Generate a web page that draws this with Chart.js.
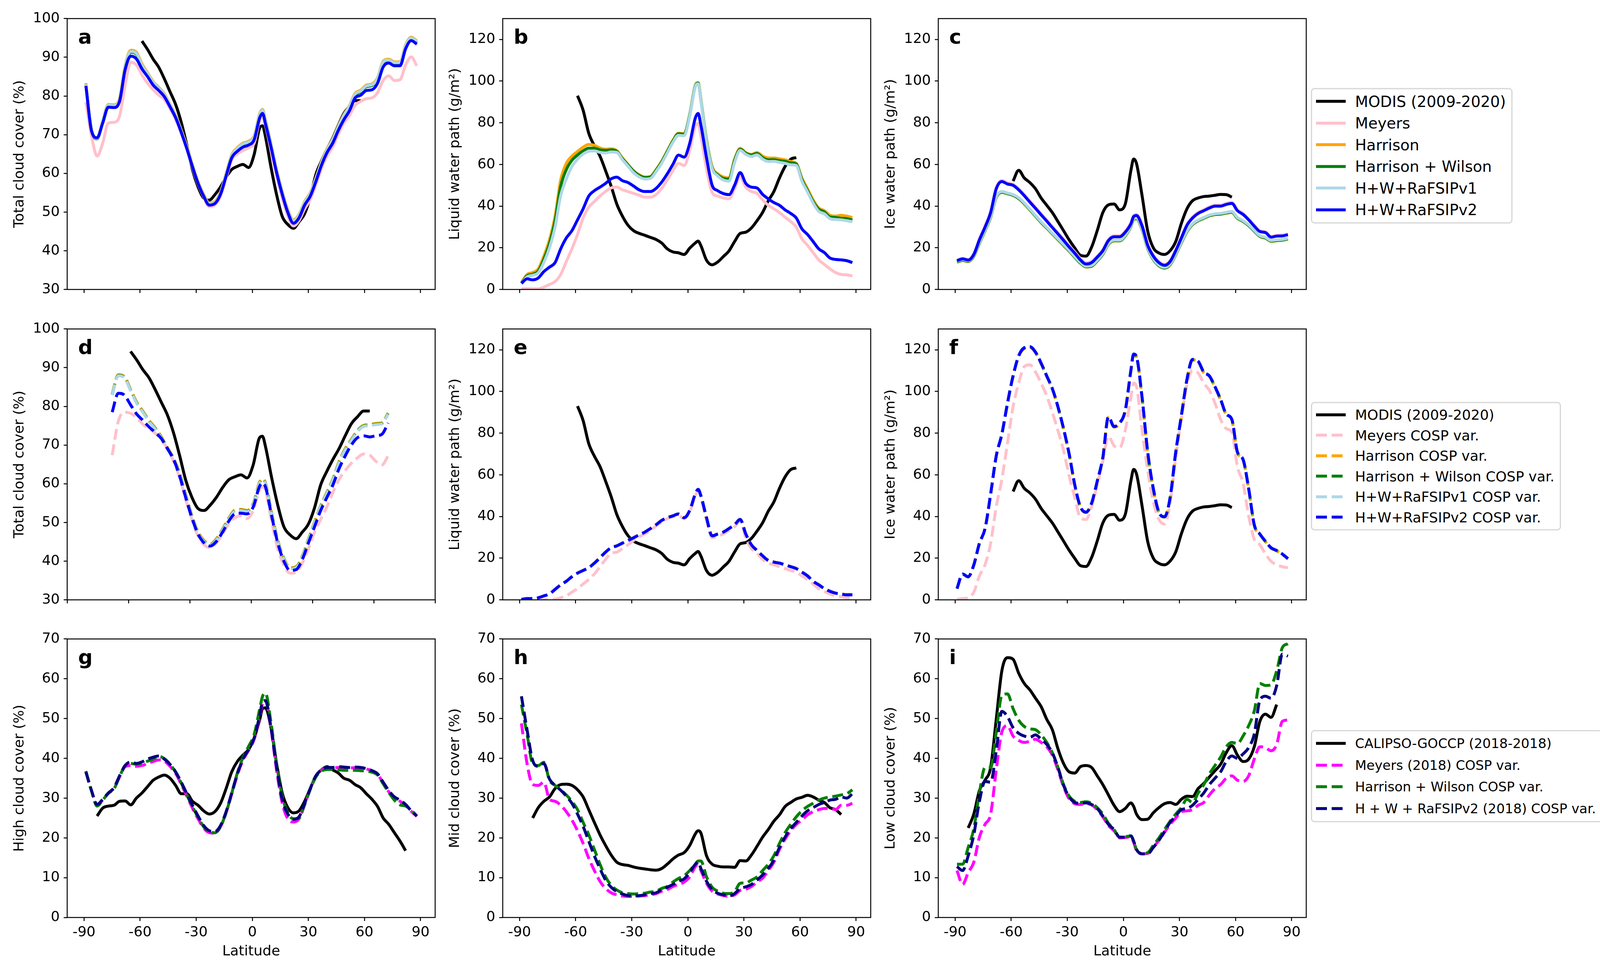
<!DOCTYPE html>
<html>
<head>
<meta charset="utf-8">
<script src="https://cdn.jsdelivr.net/npm/chart.js@4.4.1/dist/chart.umd.min.js"></script>
<style>
  body { margin: 0; background: #fff; width: 4202px; height: 2464px; position: relative; overflow: hidden; font-family: "DejaVu Sans", sans-serif; }
  .panel { position: absolute; }
  .legend { position: absolute; background: #fff; border: 3px solid #d6d6d6; border-radius: 9px; padding: 4px 14px 4px 10px; transform: translateY(-50%); color: #000; }
  .legend .row { display: flex; align-items: center; white-space: nowrap; }
  .legend svg { margin-right: 24px; flex: none; }
</style>
</head>
<body>
<script>
// latitude grid shared by every series (deg)
const lat = [-89,-86,-83,-80,-77,-74,-71,-68,-65,-62,
             -59,-56,-53,-50,-47,-44,-41,-38,-35,-32,
             -29,-26,-23,-20,-17,-14,-11,-8,-5,-2,
             1,4,5.5,7,10,13,16,19,22,25,
             28,31,34,37,40,43,46,49,52,55,
             58,61,64,67,70,73,76,79,82,85,88];
const _ = null;

const xTicks = [-90, -60, -30, 0, 30, 60, 90];
const cloudTicks = [30, 40, 50, 60, 70, 80, 90, 100];
const pathTicks = [0, 20, 40, 60, 80, 100, 120];
const layerTicks = [0, 10, 20, 30, 40, 50, 60, 70];

// ---- observations ----
const modisCloud = [_,_,_,_,_,_,_,_,_,_,
  94.2,92,89.5,87.4,84.4,81.1,77.8,73.2,67.3,60.9,
  56.5,53.6,53.1,54.5,56.5,59,61,61.8,62.3,61.5,
  64.9,71.8,72.3,69.6,61.6,54.5,48.9,46.8,45.8,47.5,
  49.6,53.8,59.7,63.2,66.3,69.1,72.4,75.5,77.3,78.8,
  78.8,_,_,_,_,_,_,_,_,_,_];
const modisLwp = [_,_,_,_,_,_,_,_,_,_,
  93,86,75,69,64,57,49.5,41,35.2,30.8,
  28.2,26.9,26,25,24,22.3,19.5,18,17.6,16.8,
  19.8,22.3,23.2,21,14,11.8,13.2,15.8,18.5,23,
  26.9,27.5,29.5,33,37,42.5,47,53.5,59,62.5,
  63.3,_,_,_,_,_,_,_,_,_,_];
const modisIwp = [_,_,_,_,_,_,_,_,_,_,
  52,57.2,53.5,51.3,48.3,43.9,40.4,36.9,32.6,28.2,
  23.8,19.9,16.4,16,20.3,28.2,36.9,40.6,41,38.2,
  41,57,62.6,60.5,45,28,20,17.5,16.8,18.6,
  23,31.7,38.7,42.6,43.9,44.6,44.8,45.2,45.6,45.5,
  44.3,_,_,_,_,_,_,_,_,_,_];
const gHigh = [_,_,25.5,27.5,28,28.2,29.2,29.3,28.3,30,
  31.3,32.9,34.5,35.3,35.8,35,33.2,31.1,31.1,29.2,
  28.2,26.8,26,26.6,28.7,32.4,36.6,39.2,40.8,42.2,
  45.1,49.8,52.5,52.7,47.7,38.7,31.3,27.6,26.3,26.8,
  29.2,32.4,35.6,37.1,37.9,37.1,36.3,35,34.5,33.4,
  32.6,31.1,29.7,27.9,25,23.4,21.3,19.2,16.8,_,_];
const gMid = [_,_,25,27.6,29.2,30.3,32.4,33.4,33.5,33.2,
  32.1,30.3,27.1,23.9,20.8,18.1,15.7,13.9,13.3,13.1,
  12.7,12.4,12.2,12,11.9,12.3,13.4,14.7,15.7,16.3,
  18.1,21,21.8,21.2,15.5,13.4,12.9,12.7,12.7,12.6,
  14.3,14.2,15.7,17.9,20.2,22.1,24.2,25.8,27.9,28.9,
  29.8,30.2,30.7,30.3,29.5,28.9,27.6,27.1,25.9,_,_];
const gLow = [_,_,22.5,26,31.9,34.5,37.7,49.8,62,65.3,
  64.9,61.4,58.8,57.2,55.1,53,49.8,47.2,42.4,38.7,
  36.6,36.3,37.9,38.2,37.7,35.6,33.4,30.8,28.2,26.6,
  27.4,28.8,27.9,26,24.6,24.7,26.3,27.6,28.6,28.9,
  28.4,29.7,30.5,30.4,32.4,33.7,35.3,36.9,38.5,41.4,
  43.2,40.8,39.2,39.8,42.9,49.3,51.1,50.3,53.5,_,_];

// ---- panel a: total cloud cover ----
const aMeyers = [78.4,69.7,64.5,67.8,73,73.2,74.8,82.8,88.7,88,
  85.4,83.3,81.6,80.2,79.1,76.7,73.9,70.4,66.1,61.4,
  57.2,53.9,51.4,51.8,54.1,58.8,63.5,65,65.9,66.6,
  67.8,73.9,74.6,72.5,65.9,59.3,53.7,49,46.4,47.8,
  50.8,53.2,57,61.2,64.5,66.8,70.1,73,75,77.6,
  78.6,79.3,79.5,80.9,84,85.2,84,84.2,88,90.1,87.8];
const aHarrison = [83.3,71.4,69.1,73.6,77.8,77.7,79.3,87.8,91.8,91.3,
  88.3,86,83.7,82.2,80.5,77.8,75,71.2,67,62.2,
  57.9,54.6,52.3,52.7,55.2,60,64.8,66.6,67.8,68.3,
  69.7,75.5,76.5,74,67.7,61,55.4,50.7,48,49.4,
  52.7,55,58.8,63,66.3,68.9,72.2,75.2,77.5,80.7,
  81.5,82.8,83.1,84.7,89,89.5,88.8,88.8,93.2,95.2,94.2];
const aWilson = [82.8,71.2,68.9,73.4,77.5,77.4,78.9,87.4,91.3,90.8,
  87.8,85.6,83.3,81.8,80.1,77.4,74.6,70.8,66.6,61.8,
  57.5,54.2,51.9,52.3,54.8,59.6,64.4,66.2,67.4,67.9,
  69.3,75.1,76.1,73.6,67.3,60.6,55,50.3,47.6,49,
  52.3,54.6,58.4,62.6,65.9,68.5,71.8,74.8,77.1,80.3,
  81.1,82.4,82.7,84.3,88.6,89.1,88.4,88.4,92.8,94.8,93.8];
const aV1 = [83,71.3,69,73.5,77.6,77.5,79,87.5,91.5,91,
  88,85.8,83.5,82,80.3,77.6,74.8,71,66.8,62,
  57.7,54.4,52.1,52.5,55,59.8,64.6,66.4,67.6,68.1,
  69.5,75.3,76.3,73.8,67.5,60.8,55.2,50.5,47.8,49.2,
  52.5,54.8,58.6,62.8,66.1,68.7,72,75,77.3,80.5,
  81.3,82.6,82.9,84.5,88.8,89.3,88.6,88.6,93,95,94];
const aV2 = [82.6,71,69.2,73,77.1,77,78.6,86.8,90.3,89.6,
  87,85,82.8,81.4,79.8,77.2,74.4,70.6,66.4,61.7,
  57.4,54.1,51.8,52.2,54.6,59.3,64,65.7,66.8,67.3,
  68.7,74.4,75.5,72.9,66.8,60.2,54.6,49.9,47.1,48.5,
  51.8,54.1,57.9,62.1,65.4,67.8,71.1,73.9,76.2,79.5,
  80.2,81.4,81.6,83.3,87.5,88.5,87.8,87.8,92.2,94.3,93.4];

// ---- panel b: liquid water path ----
const bMeyers = [0.3,0.3,0.3,0.3,1.1,2.4,3.8,7.2,13.4,19.5,
  26.4,34.3,39.5,42.2,44.8,47,48.7,49.1,47.8,47,
  46.1,45.2,44.3,44.3,45.5,48.5,52.5,57,60.5,59.5,
  66.6,78.4,79.7,73.6,57.9,46.5,44.8,43.9,43.5,48.3,
  53.9,49.1,47,46.1,43,40.4,38.7,36.9,34.7,32.6,
  29.9,24.3,21.2,17.7,14.2,12,9.9,8.1,7.2,7,6.5];
const bHarrison = [3.3,7.2,8.1,9.9,16,23.8,35.2,52.6,60.5,64,
  66.2,68.3,69.6,69.2,67.9,67.3,67.5,66.6,63.1,60,
  57,55,54,54.2,57.5,61.5,66.5,71.5,75,74.8,
  84,98,99.3,91,72,59,55.5,54,53.5,62.5,
  67.7,65.7,64.8,65.7,64,63.1,63.1,62.7,62.2,61.4,
  60.5,53.5,48.3,43,39.1,37.8,35.6,35.2,35.6,35.2,34.5];
const bWilson = [3,6.5,7.3,8.8,14.5,22,33,49.5,57.5,62,
  64.5,66.5,67.8,67.8,67,66.8,67,66.3,62.8,59.7,
  56.7,54.7,53.7,54,57.2,61.2,66.2,71.2,74.7,74.5,
  83.8,97.7,99,90.8,71.5,58.4,55,53.3,53,62,
  67.3,65.4,64.5,65.3,63.2,62.2,62.3,61.8,61.5,60.8,
  60.2,52.8,47.5,42.2,38.5,37.2,34.8,34.5,34.2,34,33.3];
const bV1 = [2.8,6,6.8,8,13,20,30,45,53,59,
  62.5,65,66.3,66.5,65.8,65.5,66,65.8,62.3,59.2,
  56,54,53,53.3,56.6,60.6,65.6,70.6,74,73.8,
  83.3,97.3,98.7,90.5,71,58,54.5,52.5,52,61,
  66.8,64.8,63.8,64.6,62.5,61.4,61.5,61,60.5,59.8,
  59.5,52,46.8,41.5,37.5,36.3,34,33.6,33.4,33,32.5];
const bV2 = [2.9,5.1,4.6,5.5,8.6,10.7,12.9,19.5,24.7,28.2,
  33.4,38.7,44.8,47.4,49.1,50.9,53.1,53.9,52.2,51.3,
  49.6,47.8,47,47,48.5,51.5,55.5,60,64.5,63.5,
  70.1,82.3,84.5,78.8,63.1,50,47.4,46,45.5,50,
  56.1,50.9,49.1,48.7,45.6,43.5,41.7,40.4,38.2,36.5,
  34.3,29.1,26.4,23,19.5,17.7,15.1,14.4,14.2,13.8,12.9];

// ---- panel c: ice water path ----
const cMeyers = [14,14.9,14.4,17.2,24.3,30.5,37.5,49,52.3,51.2,
  50.5,48.4,45.6,42.5,39.5,36.4,33.4,30.3,27.3,24.2,
  21,18,14.8,12.8,13.5,16,19.1,24,25.8,25.8,
  28,32,35.5,36,31,21.7,16.5,13.4,12.1,13.9,
  19.1,25.2,31.3,34.8,37,38.3,39.6,40.5,40.5,41.3,
  41.8,38.3,36.5,33.9,30.9,28.2,27.7,25.5,26,26.1,26.7];
const cHarrison = [13.1,13.9,13.4,15.9,22.1,28.1,34.6,44.1,46.6,45.9,
  45.1,43.6,41.1,38.1,35.1,32.1,29.4,26.6,23.9,21.1,
  18.4,15.4,12.6,10.8,11.1,13.6,16.8,21.6,23.3,23.3,
  25.6,30.1,33.6,33.9,28.6,19.6,14.3,11.3,10.2,11.8,
  16.6,22.3,27.6,31.1,32.9,34.1,35.3,35.9,36.1,36.6,
  37,34.1,32.6,30.6,27.9,25.4,24.6,23.1,23.4,23.6,24.2];
const cWilson = [13.2,14,13.5,16,22.2,28.2,34.7,44.2,46.7,46,
  45.2,43.7,41.2,38.2,35.2,32.2,29.5,26.7,24,21.2,
  18.5,15.5,12.7,10.9,11.2,13.7,16.9,21.7,23.4,23.4,
  25.7,30.2,33.7,34,28.7,19.7,14.4,11.4,10.3,11.9,
  16.7,22.4,27.7,31.2,33,34.2,35.4,36,36.2,36.7,
  37.1,34.2,32.7,30.7,28,25.5,24.7,23.2,23.5,23.7,24.3];
const cV1 = [13.5,14.3,13.8,16.3,22.5,28.5,35,44.5,47,46.3,
  45.5,44,41.5,38.5,35.5,32.5,29.8,27,24.3,21.5,
  18.8,15.8,13,11.2,11.5,14,17.2,22,23.7,23.7,
  26,30.5,34,34.3,29,20,14.7,11.7,10.6,12.2,
  17,22.7,28,31.5,33.3,34.5,35.7,36.3,36.5,37,
  37.4,34.5,33,31,28.3,25.8,25,23.5,23.8,24,24.6];
const cV2 = [13.8,14.7,14.1,16.8,23.8,29.9,36.9,48.3,51.8,50.6,
  50,47.8,45,41.9,38.9,35.8,32.8,29.7,26.7,23.6,
  20.4,17.4,14.2,12.2,12.9,15.5,18.6,23.5,25.3,25.3,
  27.5,31.5,35,35.5,30.5,21.2,16,12.9,11.6,13.4,
  18.6,24.7,30.8,34.3,36.5,37.8,39.1,40,40,40.8,
  41.3,37.8,36,33.4,30.4,27.8,27.3,25.1,25.6,25.7,26.3];

// ---- panel d: total cloud cover, COSP ----
const dMeyers = [_,_,_,_,_,_,_,67.4,76.1,78.5,
  78.2,77.1,75.4,74.2,73.1,71.4,69.1,65.8,61.6,55.9,
  50.8,46.5,44.2,43.5,44.7,47,49.6,51.2,51.7,51,
  53.1,58.3,59.2,58.3,50.3,43.2,39,36.9,37.1,39.5,
  43.2,47.5,50.8,54,57.8,61.1,63.4,65.3,66.7,67.7,
  67.4,65.8,64.9,67.2,_,_,_,_,_,_,_];
const dHarrison = [_,_,_,_,_,_,_,83.2,88.2,87.7,
  84.4,81.1,78.8,76.4,74.5,72.2,69.4,66.6,62.8,57.2,
  51.8,47.6,45.3,44.4,45.8,48.3,51.1,53.2,53.4,53.1,
  54.9,60.3,61.3,60.3,52.6,45.5,40.8,38.3,38.6,41.3,
  45.7,50.1,54.3,57.8,61.3,65.8,69.1,71.5,73.8,75.1,
  75.3,75.6,75.8,78.3,_,_,_,_,_,_,_];
const dWilson = [_,_,_,_,_,_,_,83,88,87.5,
  84.2,80.9,78.6,76.2,74.3,72,69.2,66.4,62.6,57,
  51.6,47.4,45.1,44.2,45.6,48.1,50.9,53,53.2,52.9,
  54.7,60.1,61.1,60.1,52.4,45.3,40.6,38.1,38.4,41.1,
  45.5,49.9,54.1,57.6,61.1,65.6,68.9,71.3,73.6,74.9,
  75.1,75.4,75.6,78.1,_,_,_,_,_,_,_];
const dV1 = [_,_,_,_,_,_,_,82.9,87.9,87.4,
  84.1,80.8,78.5,76.1,74.2,71.9,69.1,66.3,62.5,56.9,
  51.5,47.3,45,44.1,45.5,48,50.8,52.9,53.1,52.8,
  54.6,60,61,60,52.3,45.2,40.5,38,38.3,41,
  45.4,49.8,54,57.5,61,65.5,68.8,71.2,73.5,74.8,
  75,75.3,75.5,78,_,_,_,_,_,_,_];
const dV2 = [_,_,_,_,_,_,_,78.5,83.4,82.9,
  80.4,78,76.4,74.7,73.3,71.7,69.1,66.3,62,56.4,
  51.2,47,44.7,43.9,45.1,47.5,50.3,52.2,52.4,52.2,
  54,59.2,60.2,59.2,51.7,44.7,40,37.6,37.8,40.4,
  44.7,48.9,53.1,56.4,59.7,63.9,67.2,70,71.9,72.4,
  72.1,72.4,72.8,75.7,_,_,_,_,_,_,_];

// ---- panel e: liquid water path, COSP ----
const eMeyers = [0,0,0,0,0,0.2,0.3,1,1.9,3.7,
  5.4,7.6,9.8,12.4,15.9,19.4,22.4,22.9,24.6,26.4,
  28.5,30.3,31.6,33.3,35.5,37.3,39,39.9,40.3,39,
  42.1,49.9,52.1,49,38.1,29.8,30.7,31.6,33.3,35.1,
  37.7,29.8,24.6,22.4,19.4,17.6,16.8,15.9,15,14.1,
  13.3,11.5,9.8,7.6,5.4,4.1,2.8,1.9,1.5,1,1];
const eHarrison = [0.2,0.6,0.6,1,1.9,2.9,5.1,7.3,9,11.2,
  12.9,14.2,15.5,17.7,20.3,23,25.1,26,27.3,28.6,
  29.9,31.3,32.6,34.3,36.1,38.2,39.5,40.4,41.3,39.5,
  43,50.9,53.1,50,39.5,30.8,31.7,32.6,34.3,36.1,
  38.7,31.7,26.5,23.8,21.2,19,18.2,17.7,16.9,16,
  15.1,13.4,11.6,9,7.3,5.5,4.2,3.3,2.9,2.5,2.5];
const eWilson = [0.2,0.6,0.6,1,1.9,2.8,5,7.2,8.9,11.1,
  12.8,14.1,15.4,17.6,20.2,22.9,25,25.9,27.2,28.5,
  29.8,31.2,32.5,34.2,36,38.1,39.4,40.3,41.2,39.4,
  42.9,50.8,53,49.9,39.4,30.7,31.6,32.5,34.2,36,
  38.6,31.6,26.4,23.7,21.1,18.9,18.1,17.6,16.8,15.9,
  15,13.3,11.5,8.9,7.2,5.4,4.1,3.2,2.8,2.4,2.4];
const eV1 = [0.2,0.6,0.6,1,1.9,2.8,5,7.2,8.9,11.1,
  12.8,14.1,15.4,17.6,20.2,22.9,25,25.9,27.2,28.5,
  29.8,31.2,32.5,34.2,36,38.1,39.4,40.3,41.2,39.4,
  42.9,50.8,53,49.9,39.4,30.7,31.6,32.5,34.2,36,
  38.6,31.6,26.4,23.7,21.1,18.9,18.1,17.6,16.8,15.9,
  15,13.3,11.5,8.9,7.2,5.4,4.1,3.2,2.8,2.4,2.4];
const eV2 = [0.2,0.6,0.6,1,1.9,2.8,5,7.2,8.9,11.1,
  12.8,14.1,15.4,17.6,20.2,22.9,25,25.9,27.2,28.5,
  29.8,31.2,32.5,34.2,36,38.1,39.4,40.3,41.2,39.4,
  42.9,50.8,53,49.9,39.4,30.7,31.6,32.5,34.2,36,
  38.6,31.6,26.4,23.7,21.1,18.9,18.1,17.6,16.8,15.9,
  15,13.3,11.5,8.9,7.2,5.4,4.1,3.2,2.8,2.4,2.4];

// ---- panel f: ice water path, COSP ----
const fMeyers = [0.2,0.6,1,3.7,11.5,16.8,27.2,44.7,57.8,75.2,
  92.7,104,111.9,112.8,109.3,104,97.9,90,81.3,71.7,
  59.5,49,39.4,38.6,44.7,55.2,66.5,78.5,74,73,
  81.3,97.1,104,102.3,81.3,62.1,47.3,38.6,36.4,46.4,
  68.3,86.6,103.2,110.1,108.8,104,100.5,94.4,86.6,82.2,
  80.5,63.9,56,40.3,29,26.4,22,18.5,16.8,15.9,15.4];
const fHarrison = [5.3,12.2,11,16.6,27,34,50.5,68.8,79.3,94,
  107.2,116.8,120.6,121.2,118.6,113.3,107.2,101.1,92.4,81.9,
  69.7,55,44.5,41.9,46.2,56.6,68,87.6,82.9,84.6,
  90.7,109.8,117.6,116.4,96.8,70.6,53.2,41.9,39.7,48.9,
  70.6,88,105.5,115.1,114.2,109,107.2,102,95.9,89,
  86.4,70.7,67.2,53.2,35.8,31.4,27.9,24.8,23.5,21.8,19.6];
const fWilson = [5.4,12.3,11,16.7,27.1,34.1,50.7,69,79.5,94.2,
  107.4,117,120.8,121.4,118.8,113.5,107.4,101.3,92.6,82.1,
  69.9,55.1,44.6,42,46.3,56.8,68.2,87.8,83.1,84.8,
  90.9,110,117.8,116.6,97,70.8,53.3,42,39.8,49,
  70.8,88.2,105.7,115.3,114.4,109.2,107.4,102.2,96.1,89.1,
  86.5,70.8,67.3,53.3,35.9,31.5,28,24.9,23.6,21.9,19.7];
const fV1 = [5.4,12.4,11.1,16.8,27.2,34.2,50.8,69.1,79.6,94.4,
  107.5,117.1,121,121.5,118.9,113.6,107.5,101.4,92.7,82.2,
  70,55.2,44.7,42.1,46.4,56.9,68.3,87.9,83.2,84.9,
  91,110.1,118,116.7,97.1,70.9,53.4,42.1,39.9,49.1,
  70.9,88.3,105.8,115.4,114.5,109.3,107.5,102.3,96.2,89.2,
  86.6,70.9,67.4,53.4,36,31.6,28.1,25,23.7,22,19.8];
const fV2 = [5.4,12.4,11.1,16.8,27.2,34.2,50.8,69.1,79.6,94.4,
  107.5,117.1,121,121.5,118.9,113.6,107.5,101.4,92.7,82.2,
  70,55.2,44.7,42.1,46.4,56.9,68.3,87.9,83.2,84.9,
  91,110.1,118,116.7,97.1,70.9,53.4,42.1,39.9,49.1,
  70.9,88.3,105.8,115.4,114.5,109.3,107.5,102.3,96.2,89.2,
  86.6,70.9,67.4,53.4,36,31.6,28.1,25,23.7,22,19.8];

// ---- panel g: high cloud cover ----
const gMeyers = [36.6,31.9,28.3,29.5,31.2,32.5,35.3,37.9,38.2,38,
  38.2,38.7,39.2,39.6,39.3,38,36.2,33.5,30.5,27.5,
  24.8,22.5,21.3,21.2,22.8,26.3,31,35.8,39.5,42,
  44.8,50.5,53.8,54.5,47.5,37,28.8,24.8,24,24.8,
  28.3,32.2,35.4,37,37.6,37.6,37.7,37.6,37.6,37.6,
  37.5,37.3,36.9,36,33.8,31.6,30,29.2,28.2,26.7,25.4];
const gWilson = [36.8,31.8,28,29.5,31.2,32.3,35.4,38.2,38.7,38.5,
  38.8,39.3,39.8,40.5,39.9,38.5,36.5,33.8,30.8,27.8,
  25.2,22.8,21.5,21.3,22.8,26.4,31.2,36.3,40.2,43,
  46,52.5,55.6,56.4,49,38.5,30.5,26.3,24.8,25,
  28.5,32.2,35.3,36.8,37.2,37.2,37.1,37,37,37,
  36.9,36.8,36.5,35.8,33.6,31.4,29.5,28.3,28,27,25.5];
const gV2 = [36.6,31.9,28.4,29.7,31.3,32.6,35.6,38.2,39.1,38.7,
  39.1,39.8,40.3,40.6,39.8,38.5,36.6,34,31.1,28.2,
  25.5,23.1,21.8,21.6,23.1,26.6,31.3,36.1,39.8,42.2,
  45.1,50.9,54.2,54.5,47.7,37.7,29.7,26,24.7,25.3,
  28.7,32.4,35.6,37.1,37.7,37.7,37.9,37.8,37.7,37.8,
  37.7,37.4,36.9,36.1,34,31.9,30.3,29.5,28.4,26.8,25.5];

// ---- panel h: mid cloud cover ----
const hMeyers = [48.8,38.7,33.4,33.2,34,29.7,29.2,28.2,26.6,24.5,
  21.8,18.6,14.9,11.8,9.1,7.3,6.2,5.7,5.4,5.3,
  5.3,5.4,5.5,5.7,6,6.6,7,7.8,8.3,8.9,
  10.2,12.8,13.4,11.8,8.6,6.6,5.9,5.5,5.3,5.7,
  6.8,7.1,7.8,8.9,9.9,11.8,13.9,17.1,19.7,21.8,
  23.4,24.5,25.8,26.6,27.1,27.4,27.4,27.1,28.2,28.2,28.7];
const hWilson = [53.5,46.1,38.7,38.2,39,34.5,33.2,32.1,30.8,29.2,
  27.1,23.9,20.8,17.1,13.4,10.2,8.1,6.9,6.2,6,
  5.9,6,6.1,6.4,6.6,7.3,7.8,8.9,9.8,10.5,
  11.8,13.4,14.2,14.2,10.2,7.6,6.6,6.1,6,6.5,
  8.6,8.7,9.4,10.2,11.8,13.4,15.5,18.6,21.3,23.4,
  25.3,26.8,27.9,28.7,29.5,30,30.3,30.5,30.8,31.1,32.1];
const hV2 = [55.6,47.2,39.5,38,38.7,34.8,33.2,32,30.5,28.7,
  26,22.9,19.2,15.5,12.3,9.4,7.6,6.5,5.9,5.5,
  5.4,5.5,5.7,6,6.2,7,7.6,8.3,9.1,9.7,
  11.3,13.4,13.9,12.3,9.1,7,6.1,5.7,5.4,6,
  7.3,7.7,8.3,9.4,10.7,12.3,14.4,17.6,20.2,22.3,
  23.9,25.5,26.8,27.6,28.4,28.9,29.5,29.7,30.3,30,31.1];

// ---- panel i: low cloud cover ----
const iMeyers = [11.8,8.3,11.3,13.9,20.2,23.4,26,37.1,46.6,48.2,
  45.6,44.5,44,44.3,44.8,44,42.9,40.8,37.1,32.9,
  29.8,28.6,28.4,28.6,28.3,27.1,25.3,23.1,21.8,20,
  20.1,20.3,18.9,16.8,16,16.1,17.6,19.4,21.4,23.4,
  25,26.6,26.8,27.1,28.2,28.9,30.8,32.4,33.4,35,
  35.6,34.5,34.2,35.6,39.8,42.9,42.7,41.9,43.5,49.3,49.6];
const iWilson = [13.4,13.4,17.6,22.3,31.3,37.7,37.7,46.6,55.8,56.2,
  52.5,49.6,48,47.4,47.2,45.9,44,41.4,37.7,33.4,
  30.5,29.2,28.9,29.1,28.7,27.6,26,23.7,22.1,20.2,
  20.3,20.5,19.2,17.1,16.1,16.3,18.1,20,22.1,24.2,
  26,27.6,29.7,28.9,31.3,33.4,36.1,38.2,40.3,42.9,
  44,43.7,45.6,48.2,51.9,58.8,58.3,58.5,62,67.8,68.8];
const iV2 = [12.8,11.8,15.5,20.8,29.2,34.2,34,41.9,51.8,50.5,
  47.7,46.3,45.6,45.3,45.9,44.8,43.5,41.4,37.7,33.2,
  30.3,28.9,28.7,28.8,28.4,27.4,25.5,23.4,22.1,20.2,
  20.2,20.5,19.2,17.1,16,16,17.6,19.4,21.6,23.9,
  25.5,27.1,27.4,28.2,29.7,31.3,33.4,35,36.6,39.2,
  40.6,40,41.1,42.7,46.1,54.6,55.6,55.1,58.3,66.2,65.7];

// ---- layout ----
const PLOT_X = [172, 1287, 2402];
const PLOT_Y = [36, 831, 1625];
const PLOT_W = 942, PLOT_H = 725;
const Y_BOX = 150, PAD_T = 20, PAD_R = 20;
const FONT = '"DejaVu Sans", sans-serif';

const COL = {
  black: '#000000', pink: '#ffc0cb', orange: '#ffa500', green: '#008000',
  lightblue: '#add8e6', blue: '#0000ff', magenta: '#ff00ff', navy: '#000080'
};

function ser(label, data, color, dashed) { return { label, data, color, dashed }; }

const panels = [
  { letter: 'a', col: 0, row: 0, ylabel: 'Total cloud cover (%)', ymin: 30, ymax: 100, yticks: cloudTicks, xmin: -99, xmax: 97.8, series: [
    ser('MODIS (2009-2020)', modisCloud, COL.black, false),
    ser('Meyers', aMeyers, COL.pink, false),
    ser('Harrison', aHarrison, COL.orange, false),
    ser('Harrison + Wilson', aWilson, COL.green, false),
    ser('H+W+RaFSIPv1', aV1, COL.lightblue, false),
    ser('H+W+RaFSIPv2', aV2, COL.blue, false)] },
  { letter: 'b', col: 1, row: 0, ylabel: 'Liquid water path (g/m²)', ymin: 0, ymax: 130, yticks: pathTicks, xmin: -99, xmax: 97.8, series: [
    ser('MODIS (2009-2020)', modisLwp, COL.black, false),
    ser('Meyers', bMeyers, COL.pink, false),
    ser('Harrison', bHarrison, COL.orange, false),
    ser('Harrison + Wilson', bWilson, COL.green, false),
    ser('H+W+RaFSIPv1', bV1, COL.lightblue, false),
    ser('H+W+RaFSIPv2', bV2, COL.blue, false)] },
  { letter: 'c', col: 2, row: 0, ylabel: 'Ice water path (g/m²)', ymin: 0, ymax: 130, yticks: pathTicks, xmin: -99, xmax: 97.8, series: [
    ser('MODIS (2009-2020)', modisIwp, COL.black, false),
    ser('Meyers', cMeyers, COL.pink, false),
    ser('Harrison', cHarrison, COL.orange, false),
    ser('Harrison + Wilson', cWilson, COL.green, false),
    ser('H+W+RaFSIPv1', cV1, COL.lightblue, false),
    ser('H+W+RaFSIPv2', cV2, COL.blue, false)] },
  { letter: 'd', col: 0, row: 1, ylabel: 'Total cloud cover (%)', ymin: 30, ymax: 100, yticks: cloudTicks, xmin: -90, xmax: 90, series: [
    ser('MODIS (2009-2020)', modisCloud, COL.black, false),
    ser('Meyers COSP var.', dMeyers, COL.pink, true),
    ser('Harrison COSP var.', dHarrison, COL.orange, true),
    ser('Harrison + Wilson COSP var.', dWilson, COL.green, true),
    ser('H+W+RaFSIPv1 COSP var.', dV1, COL.lightblue, true),
    ser('H+W+RaFSIPv2 COSP var.', dV2, COL.blue, true)] },
  { letter: 'e', col: 1, row: 1, ylabel: 'Liquid water path (g/m²)', ymin: 0, ymax: 130, yticks: pathTicks, xmin: -99, xmax: 97.8, series: [
    ser('MODIS (2009-2020)', modisLwp, COL.black, false),
    ser('Meyers COSP var.', eMeyers, COL.pink, true),
    ser('Harrison COSP var.', eHarrison, COL.orange, true),
    ser('Harrison + Wilson COSP var.', eWilson, COL.green, true),
    ser('H+W+RaFSIPv1 COSP var.', eV1, COL.lightblue, true),
    ser('H+W+RaFSIPv2 COSP var.', eV2, COL.blue, true)] },
  { letter: 'f', col: 2, row: 1, ylabel: 'Ice water path (g/m²)', ymin: 0, ymax: 130, yticks: pathTicks, xmin: -99, xmax: 97.8, series: [
    ser('MODIS (2009-2020)', modisIwp, COL.black, false),
    ser('Meyers COSP var.', fMeyers, COL.pink, true),
    ser('Harrison COSP var.', fHarrison, COL.orange, true),
    ser('Harrison + Wilson COSP var.', fWilson, COL.green, true),
    ser('H+W+RaFSIPv1 COSP var.', fV1, COL.lightblue, true),
    ser('H+W+RaFSIPv2 COSP var.', fV2, COL.blue, true)] },
  { letter: 'g', col: 0, row: 2, ylabel: 'High cloud cover (%)', ymin: 0, ymax: 70, yticks: layerTicks, xmin: -99, xmax: 97.8, series: [
    ser('CALIPSO-GOCCP (2018-2018)', gHigh, COL.black, false),
    ser('Meyers (2018) COSP var.', gMeyers, COL.magenta, true),
    ser('Harrison + Wilson COSP var.', gWilson, COL.green, true),
    ser('H + W + RaFSIPv2 (2018) COSP var.', gV2, COL.navy, true)] },
  { letter: 'h', col: 1, row: 2, ylabel: 'Mid cloud cover (%)', ymin: 0, ymax: 70, yticks: layerTicks, xmin: -99, xmax: 97.8, series: [
    ser('CALIPSO-GOCCP (2018-2018)', gMid, COL.black, false),
    ser('Meyers (2018) COSP var.', hMeyers, COL.magenta, true),
    ser('Harrison + Wilson COSP var.', hWilson, COL.green, true),
    ser('H + W + RaFSIPv2 (2018) COSP var.', hV2, COL.navy, true)] },
  { letter: 'i', col: 2, row: 2, ylabel: 'Low cloud cover (%)', ymin: 0, ymax: 70, yticks: layerTicks, xmin: -99, xmax: 97.8, series: [
    ser('CALIPSO-GOCCP (2018-2018)', gLow, COL.black, false),
    ser('Meyers (2018) COSP var.', iMeyers, COL.magenta, true),
    ser('Harrison + Wilson COSP var.', iWilson, COL.green, true),
    ser('H + W + RaFSIPv2 (2018) COSP var.', iV2, COL.navy, true)] }
];

const LINE_W = 7.5;
const DASH = [28, 12];

// frame (all four spines) and bold panel letter
const framePlugin = {
  id: 'frame',
  afterDraw(chart, args, opts) {
    const { ctx, chartArea: a } = chart;
    ctx.save();
    ctx.strokeStyle = '#000';
    ctx.lineWidth = 2.5;
    ctx.strokeRect(a.left, a.top, a.right - a.left, a.bottom - a.top);
    ctx.fillStyle = '#000';
    ctx.font = 'bold 52px ' + FONT;
    ctx.textBaseline = 'alphabetic';
    ctx.fillText(opts.letter, a.left + 28, a.top + 64);
    ctx.restore();
  }
};

function makePanel(p) {
  const isBottom = p.row === 2;
  const xBox = isBottom ? 118 : 12;
  const w = Y_BOX + PLOT_W + PAD_R;
  const h = PAD_T + PLOT_H + xBox;

  const canvas = document.createElement('canvas');
  canvas.className = 'panel';
  canvas.width = w;
  canvas.height = h;
  canvas.style.left = (PLOT_X[p.col] - Y_BOX) + 'px';
  canvas.style.top = (PLOT_Y[p.row] - PAD_T) + 'px';
  canvas.style.width = w + 'px';
  canvas.style.height = h + 'px';
  document.body.appendChild(canvas);

  const n = p.series.length;
  const datasets = p.series.map((s, i) => ({
    label: s.label,
    data: lat.map((x, j) => ({ x: x, y: s.data[j] })),
    borderColor: s.color,
    backgroundColor: s.color,
    borderWidth: LINE_W,
    borderDash: s.dashed ? DASH : [],
    pointRadius: 0,
    fill: false,
    spanGaps: false,
    cubicInterpolationMode: 'monotone',
    order: n - 1 - i   // later series drawn on top, as in the original
  }));

  const tickFont = { size: 36, family: FONT };

  new Chart(canvas, {
    type: 'line',
    data: { datasets },
    options: {
      responsive: false,
      animation: false,
      devicePixelRatio: 1,
      layout: { padding: { top: PAD_T, right: PAD_R, left: 0, bottom: 0 } },
      plugins: { legend: { display: false }, tooltip: { enabled: false }, frame: { letter: p.letter } },
      scales: {
        x: {
          type: 'linear',
          min: p.xmin,
          max: p.xmax,
          afterBuildTicks: (s) => { s.ticks = xTicks.map(v => ({ value: v })); },
          afterFit: (s) => { s.height = xBox; },
          grid: { drawOnChartArea: false, drawTicks: true, tickLength: 9, color: '#000', lineWidth: 2.5 },
          border: { display: false },
          ticks: {
            color: '#000', font: tickFont, padding: 8, maxRotation: 0, autoSkip: false,
            callback: (v) => isBottom ? String(v) : ''
          },
          title: { display: isBottom, text: 'Latitude', color: '#000', font: tickFont, padding: { top: 0, bottom: 9 } }
        },
        y: {
          type: 'linear',
          min: p.ymin,
          max: p.ymax,
          afterBuildTicks: (s) => { s.ticks = p.yticks.map(v => ({ value: v })); },
          afterFit: (s) => { s.width = Y_BOX; },
          grid: { drawOnChartArea: false, drawTicks: true, tickLength: 9, color: '#000', lineWidth: 2.5 },
          border: { display: false },
          ticks: { color: '#000', font: tickFont, padding: 10, callback: (v) => String(v) },
          title: { display: true, text: p.ylabel, color: '#000', font: tickFont, padding: { top: 7, bottom: 0 } }
        }
      }
    },
    plugins: [framePlugin]
  });
}

function makeLegend(p, centerY, fontSize, pitch) {
  const box = document.createElement('div');
  box.className = 'legend';
  box.style.left = '3356px';
  box.style.top = centerY + 'px';
  box.style.fontSize = fontSize + 'px';
  p.series.forEach(s => {
    const row = document.createElement('div');
    row.className = 'row';
    row.style.height = pitch + 'px';
    const dash = s.dashed ? ` stroke-dasharray="${DASH.join(' ')}"` : '';
    row.innerHTML = `<svg width="76" height="12"><line x1="0" y1="6" x2="76" y2="6" stroke="${s.color}" stroke-width="${LINE_W}"${dash}/></svg><span>${s.label}</span>`;
    box.appendChild(row);
  });
  document.body.appendChild(box);
}

Chart.defaults.font.family = FONT;
panels.forEach(makePanel);

makeLegend(panels[2], PLOT_Y[0] + PLOT_H / 2, 39, 55.5);
makeLegend(panels[5], PLOT_Y[1] + PLOT_H / 2, 36, 52.5);
makeLegend(panels[8], PLOT_Y[2] + PLOT_H / 2, 34, 55.5);
</script>
</body>
</html>
